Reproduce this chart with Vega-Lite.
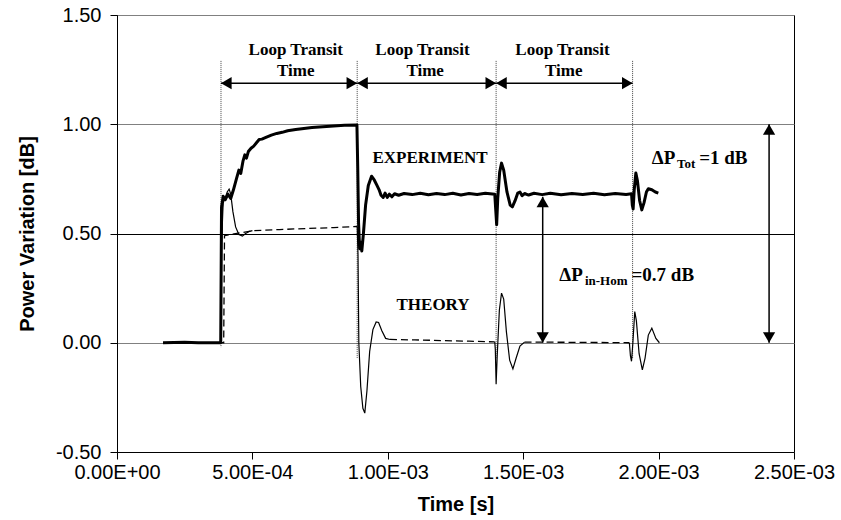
{
  "$schema": "https://vega.github.io/schema/vega-lite/v6.json",
  "width": 677,
  "height": 437,
  "autosize": {"type": "none"},
  "padding": {"left": 117, "top": 15, "right": 47, "bottom": 68},
  "background": "white",
  "config": {
    "view": {"stroke": "black", "strokeWidth": 1},
    "axis": {
      "domainColor": "black", "domainWidth": 1, "tickColor": "black", "tickSize": 7,
      "labelFont": "Liberation Sans", "labelFontSize": 20, "labelColor": "black",
      "titleFont": "Liberation Sans", "titleFontSize": 20, "titleFontWeight": "bold", "titleColor": "black"
    }
  },
  "datasets": {
    "exp": [
      {"t": 0.170e-3, "p": 0}, {"t": 0.250e-3, "p": 0.002}, {"t": 0.300e-3, "p": 0}, {"t": 0.383e-3, "p": 0},
      {"t": 0.386e-3, "p": 0.62}, {"t": 0.392e-3, "p": 0.67}, {"t": 0.400e-3, "p": 0.655}, {"t": 0.410e-3, "p": 0.68},
      {"t": 0.420e-3, "p": 0.66}, {"t": 0.430e-3, "p": 0.70}, {"t": 0.440e-3, "p": 0.745}, {"t": 0.450e-3, "p": 0.79},
      {"t": 0.457e-3, "p": 0.775}, {"t": 0.465e-3, "p": 0.83}, {"t": 0.472e-3, "p": 0.86}, {"t": 0.478e-3, "p": 0.845},
      {"t": 0.485e-3, "p": 0.875}, {"t": 0.495e-3, "p": 0.89}, {"t": 0.505e-3, "p": 0.90}, {"t": 0.515e-3, "p": 0.915},
      {"t": 0.525e-3, "p": 0.93}, {"t": 0.535e-3, "p": 0.932}, {"t": 0.550e-3, "p": 0.94}, {"t": 0.570e-3, "p": 0.95},
      {"t": 0.590e-3, "p": 0.958}, {"t": 0.610e-3, "p": 0.963}, {"t": 0.630e-3, "p": 0.97}, {"t": 0.660e-3, "p": 0.976},
      {"t": 0.690e-3, "p": 0.981}, {"t": 0.720e-3, "p": 0.985}, {"t": 0.760e-3, "p": 0.989}, {"t": 0.800e-3, "p": 0.992},
      {"t": 0.840e-3, "p": 0.995}, {"t": 0.886e-3, "p": 0.997}, {"t": 0.889e-3, "p": 0.80}, {"t": 0.892e-3, "p": 0.55},
      {"t": 0.896e-3, "p": 0.43}, {"t": 0.900e-3, "p": 0.46}, {"t": 0.904e-3, "p": 0.42}, {"t": 0.910e-3, "p": 0.50},
      {"t": 0.918e-3, "p": 0.63}, {"t": 0.928e-3, "p": 0.72}, {"t": 0.940e-3, "p": 0.762}, {"t": 0.950e-3, "p": 0.745},
      {"t": 0.960e-3, "p": 0.72}, {"t": 0.968e-3, "p": 0.70}, {"t": 0.975e-3, "p": 0.675}, {"t": 0.983e-3, "p": 0.665},
      {"t": 0.990e-3, "p": 0.685}, {"t": 0.998e-3, "p": 0.665}, {"t": 1.006e-3, "p": 0.68}, {"t": 1.015e-3, "p": 0.668},
      {"t": 1.025e-3, "p": 0.682}, {"t": 1.040e-3, "p": 0.675}, {"t": 1.060e-3, "p": 0.683}, {"t": 1.090e-3, "p": 0.678},
      {"t": 1.120e-3, "p": 0.684}, {"t": 1.150e-3, "p": 0.677}, {"t": 1.180e-3, "p": 0.683}, {"t": 1.210e-3, "p": 0.678},
      {"t": 1.240e-3, "p": 0.684}, {"t": 1.270e-3, "p": 0.676}, {"t": 1.300e-3, "p": 0.683}, {"t": 1.330e-3, "p": 0.679},
      {"t": 1.360e-3, "p": 0.684}, {"t": 1.395e-3, "p": 0.68}, {"t": 1.399e-3, "p": 0.60}, {"t": 1.402e-3, "p": 0.54},
      {"t": 1.406e-3, "p": 0.66}, {"t": 1.413e-3, "p": 0.78}, {"t": 1.420e-3, "p": 0.822}, {"t": 1.428e-3, "p": 0.79},
      {"t": 1.440e-3, "p": 0.69}, {"t": 1.452e-3, "p": 0.63}, {"t": 1.460e-3, "p": 0.622}, {"t": 1.470e-3, "p": 0.65},
      {"t": 1.480e-3, "p": 0.685}, {"t": 1.488e-3, "p": 0.69}, {"t": 1.496e-3, "p": 0.673}, {"t": 1.505e-3, "p": 0.683},
      {"t": 1.520e-3, "p": 0.676}, {"t": 1.540e-3, "p": 0.684}, {"t": 1.570e-3, "p": 0.678}, {"t": 1.600e-3, "p": 0.684},
      {"t": 1.640e-3, "p": 0.677}, {"t": 1.680e-3, "p": 0.683}, {"t": 1.720e-3, "p": 0.678}, {"t": 1.760e-3, "p": 0.684},
      {"t": 1.800e-3, "p": 0.677}, {"t": 1.840e-3, "p": 0.683}, {"t": 1.880e-3, "p": 0.679}, {"t": 1.900e-3, "p": 0.682},
      {"t": 1.903e-3, "p": 0.63}, {"t": 1.906e-3, "p": 0.612}, {"t": 1.910e-3, "p": 0.70}, {"t": 1.916e-3, "p": 0.777},
      {"t": 1.922e-3, "p": 0.74}, {"t": 1.930e-3, "p": 0.65}, {"t": 1.938e-3, "p": 0.608}, {"t": 1.946e-3, "p": 0.64},
      {"t": 1.955e-3, "p": 0.69}, {"t": 1.962e-3, "p": 0.705}, {"t": 1.975e-3, "p": 0.70}, {"t": 1.988e-3, "p": 0.69},
      {"t": 1.999e-3, "p": 0.685}
    ],
    "theory": [
      {"seg": "A", "part": "transient", "t": 0.383e-3, "p": 0}, {"seg": "A", "part": "transient", "t": 0.386e-3, "p": 0.45},
      {"seg": "A", "part": "transient", "t": 0.392e-3, "p": 0.64}, {"seg": "A", "part": "transient", "t": 0.400e-3, "p": 0.665},
      {"seg": "A", "part": "transient", "t": 0.407e-3, "p": 0.69}, {"seg": "A", "part": "transient", "t": 0.414e-3, "p": 0.703},
      {"seg": "A", "part": "transient", "t": 0.420e-3, "p": 0.68}, {"seg": "A", "part": "transient", "t": 0.428e-3, "p": 0.60},
      {"seg": "A", "part": "transient", "t": 0.438e-3, "p": 0.53}, {"seg": "A", "part": "transient", "t": 0.450e-3, "p": 0.495},
      {"seg": "A", "part": "transient", "t": 0.463e-3, "p": 0.488}, {"seg": "A", "part": "transient", "t": 0.475e-3, "p": 0.500},
      {"seg": "A", "part": "transient", "t": 0.490e-3, "p": 0.510}, {"seg": "A", "part": "transient", "t": 0.500e-3, "p": 0.513},
      {"seg": "B", "part": "transient", "t": 0.887e-3, "p": 0.532}, {"seg": "B", "part": "transient", "t": 0.890e-3, "p": 0.40},
      {"seg": "B", "part": "transient", "t": 0.893e-3, "p": 0.0}, {"seg": "B", "part": "transient", "t": 0.900e-3, "p": -0.20},
      {"seg": "B", "part": "transient", "t": 0.908e-3, "p": -0.30}, {"seg": "B", "part": "transient", "t": 0.915e-3, "p": -0.322},
      {"seg": "B", "part": "transient", "t": 0.923e-3, "p": -0.22}, {"seg": "B", "part": "transient", "t": 0.933e-3, "p": -0.04},
      {"seg": "B", "part": "transient", "t": 0.945e-3, "p": 0.06}, {"seg": "B", "part": "transient", "t": 0.957e-3, "p": 0.095},
      {"seg": "B", "part": "transient", "t": 0.966e-3, "p": 0.093}, {"seg": "B", "part": "transient", "t": 0.978e-3, "p": 0.055},
      {"seg": "B", "part": "transient", "t": 0.992e-3, "p": 0.02}, {"seg": "B", "part": "transient", "t": 1.008e-3, "p": 0.015},
      {"seg": "C", "part": "transient", "t": 1.395e-3, "p": 0.004}, {"seg": "C", "part": "transient", "t": 1.397e-3, "p": -0.03},
      {"seg": "C", "part": "transient", "t": 1.400e-3, "p": -0.19}, {"seg": "C", "part": "transient", "t": 1.404e-3, "p": -0.06},
      {"seg": "C", "part": "transient", "t": 1.412e-3, "p": 0.15}, {"seg": "C", "part": "transient", "t": 1.420e-3, "p": 0.227},
      {"seg": "C", "part": "transient", "t": 1.428e-3, "p": 0.20}, {"seg": "C", "part": "transient", "t": 1.438e-3, "p": 0.05},
      {"seg": "C", "part": "transient", "t": 1.450e-3, "p": -0.08}, {"seg": "C", "part": "transient", "t": 1.462e-3, "p": -0.12},
      {"seg": "C", "part": "transient", "t": 1.474e-3, "p": -0.07}, {"seg": "C", "part": "transient", "t": 1.488e-3, "p": -0.015},
      {"seg": "C", "part": "transient", "t": 1.505e-3, "p": 0.003},
      {"seg": "D", "part": "transient", "t": 1.892e-3, "p": 0.0}, {"seg": "D", "part": "transient", "t": 1.896e-3, "p": -0.06},
      {"seg": "D", "part": "transient", "t": 1.900e-3, "p": -0.085}, {"seg": "D", "part": "transient", "t": 1.905e-3, "p": 0.0},
      {"seg": "D", "part": "transient", "t": 1.912e-3, "p": 0.143}, {"seg": "D", "part": "transient", "t": 1.918e-3, "p": 0.10},
      {"seg": "D", "part": "transient", "t": 1.928e-3, "p": -0.05}, {"seg": "D", "part": "transient", "t": 1.940e-3, "p": -0.124},
      {"seg": "D", "part": "transient", "t": 1.950e-3, "p": -0.07}, {"seg": "D", "part": "transient", "t": 1.962e-3, "p": 0.035},
      {"seg": "D", "part": "transient", "t": 1.975e-3, "p": 0.067}, {"seg": "D", "part": "transient", "t": 1.990e-3, "p": 0.02},
      {"seg": "D", "part": "transient", "t": 2.003e-3, "p": 0.0},
      {"seg": "S1", "part": "steady", "t": 0.170e-3, "p": 0}, {"seg": "S1", "part": "steady", "t": 0.394e-3, "p": 0},
      {"seg": "S1", "part": "steady", "t": 0.397e-3, "p": 0.49}, {"seg": "S1", "part": "steady", "t": 0.500e-3, "p": 0.513},
      {"seg": "S1", "part": "steady", "t": 0.600e-3, "p": 0.518}, {"seg": "S1", "part": "steady", "t": 0.700e-3, "p": 0.523},
      {"seg": "S1", "part": "steady", "t": 0.800e-3, "p": 0.527}, {"seg": "S1", "part": "steady", "t": 0.887e-3, "p": 0.532},
      {"seg": "S2", "part": "steady", "t": 1.008e-3, "p": 0.015}, {"seg": "S2", "part": "steady", "t": 1.100e-3, "p": 0.013},
      {"seg": "S2", "part": "steady", "t": 1.200e-3, "p": 0.010}, {"seg": "S2", "part": "steady", "t": 1.300e-3, "p": 0.007},
      {"seg": "S2", "part": "steady", "t": 1.395e-3, "p": 0.004},
      {"seg": "S3", "part": "steady", "t": 1.505e-3, "p": 0.003}, {"seg": "S3", "part": "steady", "t": 1.700e-3, "p": 0.002},
      {"seg": "S3", "part": "steady", "t": 1.892e-3, "p": 0.0}
    ],
    "vlines": [
      {"t": 0.384e-3, "y1": 1.29, "y2": -0.02},
      {"t": 0.887e-3, "y1": 1.29, "y2": -0.07},
      {"t": 1.400e-3, "y1": 1.29, "y2": -0.07},
      {"t": 1.904e-3, "y1": 1.29, "y2": -0.07}
    ],
    "harrows": [
      {"t1": 0.384e-3, "t2": 0.887e-3, "p": 1.188},
      {"t1": 0.887e-3, "t2": 1.400e-3, "p": 1.188},
      {"t1": 1.400e-3, "t2": 1.904e-3, "p": 1.188}
    ],
    "varrows": [
      {"t": 2.408e-3, "y1": 1.0, "y2": 0.0},
      {"t": 1.572e-3, "y1": 0.668, "y2": 0.0}
    ],
    "heads": [
      {"t": 0.4036e-3, "p": 1.188, "dir": "left"}, {"t": 0.8674e-3, "p": 1.188, "dir": "right"},
      {"t": 0.9066e-3, "p": 1.188, "dir": "left"}, {"t": 1.3804e-3, "p": 1.188, "dir": "right"},
      {"t": 1.4196e-3, "p": 1.188, "dir": "left"}, {"t": 1.8844e-3, "p": 1.188, "dir": "right"},
      {"t": 2.408e-3, "p": 0.976, "dir": "up"}, {"t": 2.408e-3, "p": 0.024, "dir": "down"},
      {"t": 1.572e-3, "p": 0.644, "dir": "up"}, {"t": 1.572e-3, "p": 0.024, "dir": "down"}
    ],
    "notes": [
      {"t": 0.660e-3, "p": 1.341, "label": "Loop Transit"},
      {"t": 0.660e-3, "p": 1.242, "label": "Time"},
      {"t": 1.128e-3, "p": 1.341, "label": "Loop Transit"},
      {"t": 1.138e-3, "p": 1.242, "label": "Time"},
      {"t": 1.645e-3, "p": 1.341, "label": "Loop Transit"},
      {"t": 1.650e-3, "p": 1.242, "label": "Time"},
      {"t": 1.156e-3, "p": 0.847, "label": "EXPERIMENT"},
      {"t": 1.167e-3, "p": 0.174, "label": "THEORY"}
    ],
    "dmain": [
      {"t": 1.975e-3, "p": 0.819, "label": "ΔP"},
      {"t": 2.150e-3, "p": 0.819, "label": "=1 dB"},
      {"t": 1.633e-3, "p": 0.281, "label": "ΔP"},
      {"t": 1.900e-3, "p": 0.281, "label": "=0.7 dB"}
    ],
    "dsub": [
      {"t": 2.068e-3, "p": 0.800, "label": "Tot"},
      {"t": 1.728e-3, "p": 0.263, "label": "in-Hom"}
    ]
  },
  "layer": [
    {
      "data": {"name": "vlines"},
      "mark": {"type": "rule", "color": "#444444", "strokeWidth": 1, "strokeDash": [1, 1]},
      "encoding": {
        "x": {
          "field": "t", "type": "quantitative", "title": "Time [s]",
          "scale": {"domain": [0, 0.0025], "nice": false, "zero": false},
          "axis": {
            "values": [0, 0.0005, 0.001, 0.0015, 0.002, 0.0025],
            "labelExpr": "datum.value < 1e-9 ? '0.00E+00' : datum.value < 7e-4 ? '5.00E-04' : datum.value < 1.2e-3 ? '1.00E-03' : datum.value < 1.7e-3 ? '1.50E-03' : datum.value < 2.2e-3 ? '2.00E-03' : '2.50E-03'",
            "grid": false, "labelPadding": 3, "titlePadding": 12, "labelFlush": false
          }
        },
        "y": {
          "field": "y1", "type": "quantitative", "title": "Power Variation [dB]",
          "scale": {"domain": [-0.5, 1.5], "nice": false, "zero": false},
          "axis": {
            "values": [-0.5, 0, 0.5, 1, 1.5],
            "labelExpr": "(datum.value < 0 ? '-' : '') + format(abs(datum.value), '.2f')",
            "grid": true,
            "gridColor": {"condition": {"test": "datum.value === 0.5", "value": "#000000"}, "value": "#808080"},
            "gridWidth": 1, "labelPadding": 9, "titlePadding": 18, "labelFlush": false
          }
        },
        "y2": {"field": "y2"}
      }
    },
    {
      "data": {"name": "theory"},
      "transform": [{"filter": "datum.part === 'steady'"}],
      "mark": {"type": "line", "color": "black", "strokeWidth": 1.3, "strokeDash": [7, 4]},
      "encoding": {
        "x": {"field": "t", "type": "quantitative", "title": "Time [s]"},
        "y": {"field": "p", "type": "quantitative", "title": "Power Variation [dB]"},
        "detail": {"field": "seg"}
      }
    },
    {
      "data": {"name": "theory"},
      "transform": [{"filter": "datum.part === 'transient'"}],
      "mark": {"type": "line", "color": "black", "strokeWidth": 1.2},
      "encoding": {
        "x": {"field": "t", "type": "quantitative", "title": "Time [s]"},
        "y": {"field": "p", "type": "quantitative", "title": "Power Variation [dB]"},
        "detail": {"field": "seg"}
      }
    },
    {
      "data": {"name": "exp"},
      "mark": {"type": "line", "color": "black", "strokeWidth": 3, "strokeJoin": "round"},
      "encoding": {
        "x": {"field": "t", "type": "quantitative", "title": "Time [s]"},
        "y": {"field": "p", "type": "quantitative", "title": "Power Variation [dB]"}
      }
    },
    {
      "data": {"name": "harrows"},
      "mark": {"type": "rule", "color": "black", "strokeWidth": 1.5},
      "encoding": {
        "x": {"field": "t1", "type": "quantitative", "title": "Time [s]"},
        "x2": {"field": "t2"},
        "y": {"field": "p", "type": "quantitative", "title": "Power Variation [dB]"}
      }
    },
    {
      "data": {"name": "varrows"},
      "mark": {"type": "rule", "color": "black", "strokeWidth": 1.5},
      "encoding": {
        "x": {"field": "t", "type": "quantitative", "title": "Time [s]"},
        "y": {"field": "y1", "type": "quantitative", "title": "Power Variation [dB]"},
        "y2": {"field": "y2"}
      }
    },
    {
      "data": {"name": "heads"},
      "mark": {"type": "point", "filled": true, "color": "black", "opacity": 1, "size": 150, "strokeWidth": 0},
      "encoding": {
        "x": {"field": "t", "type": "quantitative", "title": "Time [s]"},
        "y": {"field": "p", "type": "quantitative", "title": "Power Variation [dB]"},
        "shape": {
          "field": "dir", "type": "nominal", "legend": null,
          "scale": {"domain": ["left", "right", "up", "down"], "range": ["triangle-left", "triangle-right", "triangle-up", "triangle-down"]}
        }
      }
    },
    {
      "data": {"name": "notes"},
      "mark": {"type": "text", "font": "Liberation Serif", "fontWeight": "bold", "fontSize": 17, "color": "black", "align": "center", "baseline": "middle"},
      "encoding": {
        "x": {"field": "t", "type": "quantitative", "title": "Time [s]"},
        "y": {"field": "p", "type": "quantitative", "title": "Power Variation [dB]"},
        "text": {"field": "label"}
      }
    },
    {
      "data": {"name": "dmain"},
      "mark": {"type": "text", "font": "Liberation Serif", "fontWeight": "bold", "fontSize": 19, "color": "black", "align": "left", "baseline": "alphabetic"},
      "encoding": {
        "x": {"field": "t", "type": "quantitative", "title": "Time [s]"},
        "y": {"field": "p", "type": "quantitative", "title": "Power Variation [dB]"},
        "text": {"field": "label"}
      }
    },
    {
      "data": {"name": "dsub"},
      "mark": {"type": "text", "font": "Liberation Serif", "fontWeight": "bold", "fontSize": 13, "color": "black", "align": "left", "baseline": "alphabetic"},
      "encoding": {
        "x": {"field": "t", "type": "quantitative", "title": "Time [s]"},
        "y": {"field": "p", "type": "quantitative", "title": "Power Variation [dB]"},
        "text": {"field": "label"}
      }
    }
  ]
}
